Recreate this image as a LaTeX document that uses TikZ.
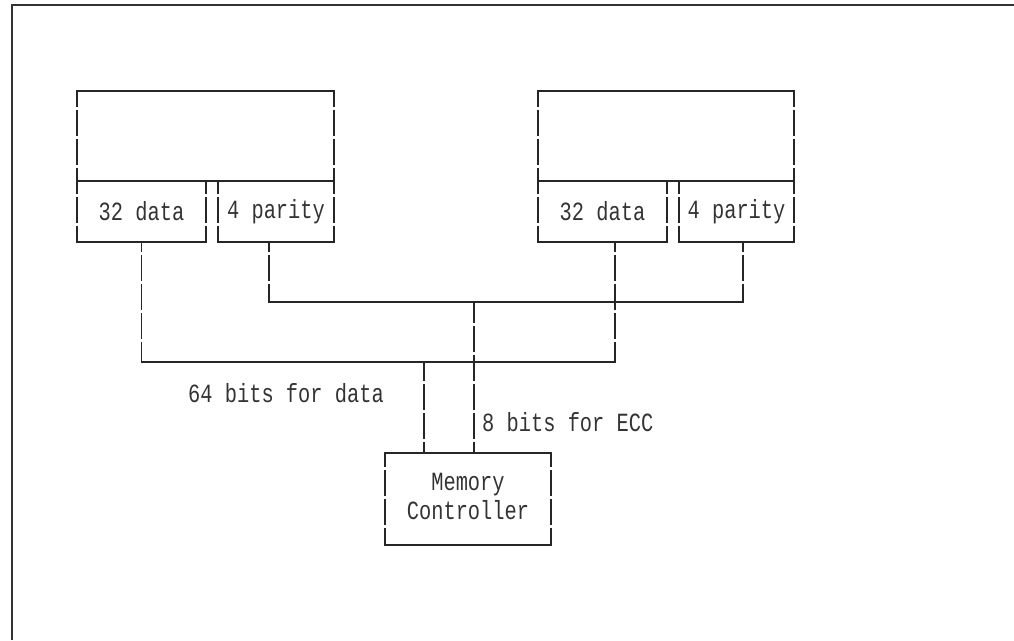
\documentclass[tikz,border=0pt]{standalone}
\usepackage{graphicx}
\usepackage{fontspec}
\newfontfamily\diagfont{Liberation Mono}
\newcommand\talltext[1]{\scalebox{0.97}[1.25]{#1}}
\begin{document}
\begin{tikzpicture}[x=1pt,y=-1pt,
  hl/.style={line width=1.8pt, line cap=rect, black!85},
  vl/.style={line width=1.8pt, black!85, dash pattern=on 26pt off 3pt},
  frameline/.style={line width=2pt, black!80},
  blk/.style={draw=none, inner sep=0pt, text=black!80, font=\diagfont\fontsize{21}{23.2}\selectfont},
  lbl/.style={inner sep=0pt, text=black!80, font=\diagfont\fontsize{21}{23.2}\selectfont}]
\useasboundingbox (0,0) rectangle (1014,640);
% frame (top and left edges)
\draw[frameline] (12,640) -- (12,5) -- (1014,5);

% left module
\node[blk, minimum width=257pt, minimum height=90pt] (m1) at (205.5,136) {};
\node[blk, minimum width=129pt, minimum height=61pt] (d1) at (141.5,211.5) {\talltext{32 data}};
\node[blk, minimum width=116pt, minimum height=61pt] (p1) at (276,211.5) {\talltext{4 parity}};
% right module
\node[blk, minimum width=256pt, minimum height=90pt] (m2) at (666,136) {};
\node[blk, minimum width=129pt, minimum height=61pt] (d2) at (602.5,211.5) {\talltext{32 data}};
\node[blk, minimum width=115pt, minimum height=61pt] (p2) at (736.5,211.5) {\talltext{4 parity}};
% memory controller
\node[blk, minimum width=166pt, minimum height=92pt] (mc) at (468,499)
  {\talltext{\begin{tabular}{@{}c@{}}Memory\\Controller\end{tabular}}};
% labels
\node[lbl, anchor=west] (l64) at (188,393) {\talltext{64 bits for data}};
\node[lbl, anchor=west] (l8) at (482,422) {\talltext{8 bits for ECC}};

% module outlines
\foreach \m/\d/\p in {m1/d1/p1, m2/d2/p2}{
  \draw[hl] (\m.north west) -- (\m.north east);
  \draw[hl] (\m.south west) -- (\m.south east);
  \draw[hl] (\d.south west) -- (\d.south east);
  \draw[hl] (\p.south west) -- (\p.south east);
  \draw[vl, dash phase=10pt] (\m.north west) -- (\d.south west);
  \draw[vl, dash phase=10pt] (\m.north east) -- (\p.south east);
  \draw[vl, dash phase=13pt] (\d.north east) -- (\d.south east);
  \draw[vl, dash phase=13pt] (\p.north west) -- (\p.south west);
}
% memory controller outline
\draw[hl] (mc.north west) -- (mc.north east);
\draw[hl] (mc.south west) -- (mc.south east);
\draw[vl, dash phase=12pt] (mc.north west) -- (mc.south west);
\draw[vl, dash phase=12pt] (mc.north east) -- (mc.south east);

% stub points
\coordinate (d1s) at (d1.south);
\coordinate (p1s) at ([xshift=-7pt]p1.south);
\coordinate (d2s) at ([xshift=12.5pt]d2.south);
\coordinate (p2s) at ([xshift=6.5pt]p2.south);
\coordinate (dbl) at (d1s |- 0,362);
\coordinate (dbr) at (d2s |- 0,362);
\coordinate (pbl) at (p1s |- 0,302);
\coordinate (pbr) at (p2s |- 0,302);
\coordinate (ddb) at ([xshift=-44pt]mc.north);
\coordinate (edb) at ([xshift=6pt]mc.north);
\coordinate (ddt) at (ddb |- dbl);
\coordinate (edt) at (edb |- pbl);

% data bus
\draw[vl, dash phase=16pt] (d1s) -- (dbl);
\draw[vl, dash phase=16pt] (d2s) -- (dbr);
\draw[hl] (dbl) -- (dbr);
% parity bus
\draw[vl, dash phase=16pt] (p1s) -- (pbl);
\draw[vl, dash phase=16pt] (p2s) -- (pbr);
\draw[hl] (pbl) -- (pbr);
% drops to controller
\draw[vl, dash phase=7pt] (ddt) -- (ddb);
\draw[vl, dash phase=5pt] (edt) -- (edb);
\end{tikzpicture}
\end{document}
